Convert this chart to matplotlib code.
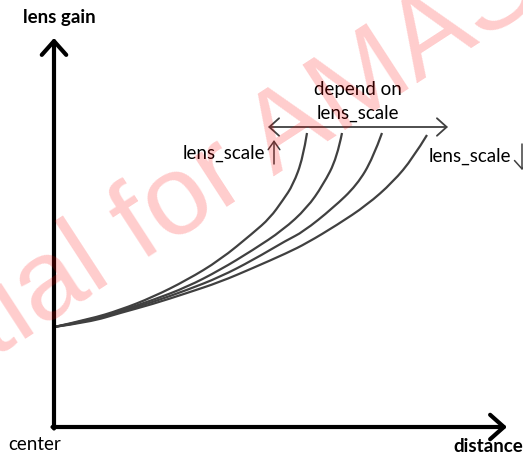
import matplotlib
matplotlib.use("Agg")
import matplotlib.pyplot as plt
from matplotlib.path import Path
from matplotlib.patches import PathPatch

# curve data (distance, lens gain), one curve per lens_scale
c1_x = [0, 36, 66, 99, 133, 166, 199, 216, 229, 239, 249, 253]
c1_y = [100, 108, 117, 130, 147, 167, 194, 209, 227, 242, 269, 294]
c2_x = [0, 36, 66, 99, 133, 166, 199, 229, 253, 269, 283, 288]
c2_y = [100, 107, 116, 127, 140, 157, 177, 197, 219, 242, 269, 294]
c3_x = [0, 36, 66, 99, 133, 166, 199, 233, 249, 279, 303, 319, 328]
c3_y = [100, 106, 115, 125, 137, 150, 167, 187, 195, 219, 242, 269, 294]
c4_x = [0, 36, 66, 99, 133, 166, 199, 233, 253, 283, 313, 339, 359, 373]
c4_y = [100, 105, 114, 123, 134, 145, 159, 174, 184, 202, 222, 245, 269, 292]
curves = [(c1_x, c1_y), (c2_x, c2_y), (c3_x, c3_y), (c4_x, c4_y)]

FONT = ["Lato", "DejaVu Sans"]
LINE = "#404040"


def smooth_path(xs, ys):
    # quadratic bezier through midpoints, read points used as control points
    pts = list(zip(xs, ys))
    verts = [pts[0]]
    codes = [Path.MOVETO]
    for i in range(1, len(pts) - 1):
        mid = ((pts[i][0] + pts[i + 1][0]) / 2, (pts[i][1] + pts[i + 1][1]) / 2)
        if i == len(pts) - 2:
            mid = pts[-1]
        verts += [pts[i], mid]
        codes += [Path.CURVE3, Path.CURVE3]
    return Path(verts, codes)


fig = plt.figure(figsize=(5.23, 4.57), dpi=100)
ax = fig.add_axes([0, 0, 1, 1])
ax.set_xlim(-54, 469)
ax.set_ylim(-30, 427)
ax.axis("off")

# axes with arrow heads
head = "->,head_length=0.45,head_width=0.4"
ax.annotate("", xy=(0, 389), xytext=(0, -1.5),
            arrowprops=dict(arrowstyle=head, lw=3, color="black",
                            mutation_scale=22, shrinkA=0, shrinkB=0))
ax.annotate("", xy=(453, 0), xytext=(-1.5, 0),
            arrowprops=dict(arrowstyle=head, lw=3, color="black",
                            mutation_scale=22, shrinkA=0, shrinkB=0))

for cx, cy in curves:
    ax.add_patch(PathPatch(smooth_path(cx, cy), fill=False, edgecolor=LINE,
                           lw=1.6, capstyle="butt"))

# range arrow and direction hints
ax.annotate("", xy=(394, 300), xytext=(214, 300),
            arrowprops=dict(arrowstyle="<->,head_length=0.5,head_width=0.45",
                            lw=1.3, color=LINE, mutation_scale=14,
                            shrinkA=0, shrinkB=0))
ax.annotate("", xy=(220, 287), xytext=(220, 263),
            arrowprops=dict(arrowstyle="->,head_length=0.5,head_width=0.35",
                            lw=1.1, color=LINE, mutation_scale=12,
                            shrinkA=0, shrinkB=0))
ax.annotate("", xy=(468, 257), xytext=(468, 283),
            arrowprops=dict(arrowstyle="->,head_length=0.5,head_width=0.45",
                            lw=1.1, color=LINE, mutation_scale=12,
                            shrinkA=0, shrinkB=0))

ax.text(304, 338, "depend on", ha="center", va="center", fontsize=13.5, family=FONT)
ax.text(304, 314, "lens_scale", ha="center", va="center", fontsize=13.5, family=FONT)
ax.text(211, 274, "lens_scale", ha="right", va="center", fontsize=13.5, family=FONT)
ax.text(375, 271, "lens_scale", ha="left", va="center", fontsize=13.5, family=FONT)
ax.text(5, 409, "lens gain", ha="center", va="center", fontsize=13.5,
        fontweight="bold", family=FONT)
ax.text(-46, -18, "center", ha="left", va="center", fontsize=13.5, family=FONT)
ax.text(469, -20, "distance", ha="right", va="center", fontsize=13.5,
        fontweight="bold", family=FONT)

# watermark
ax.text(-62, 68, "tial for AMAS", rotation=33, rotation_mode="anchor",
        ha="left", va="baseline", fontsize=82, family="Liberation Sans",
        color="#ff0000", alpha=0.2, zorder=10, clip_on=False)

fig.savefig("out.png", dpi=100)
